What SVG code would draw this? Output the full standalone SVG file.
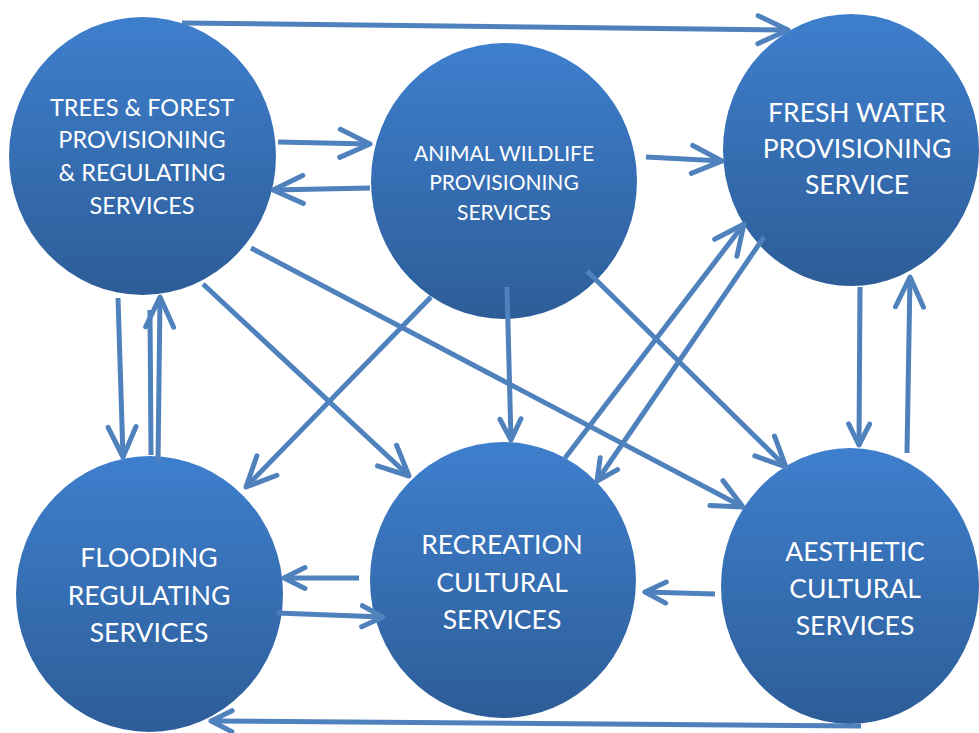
<svg xmlns="http://www.w3.org/2000/svg" width="979" height="733" viewBox="0 0 979 733">
<defs>
<linearGradient id="g" x1="0" y1="0" x2="0" y2="1">
<stop offset="0" stop-color="#3e7fcd"/>
<stop offset="1" stop-color="#2d5d98"/>
</linearGradient>
<marker id="big" markerUnits="userSpaceOnUse" markerWidth="80" markerHeight="80" viewBox="-40 -40 80 80" refX="0" refY="0" orient="auto" overflow="visible">
<path d="M-30,-14 L0,0 L-30,14" fill="none" stroke="#4f81bd" stroke-width="5" stroke-linecap="round" stroke-linejoin="round"/>
</marker>
<marker id="small" markerUnits="userSpaceOnUse" markerWidth="80" markerHeight="80" viewBox="-40 -40 80 80" refX="0" refY="0" orient="auto" overflow="visible">
<path d="M-21,-10.5 L0,0 L-21,10.5" fill="none" stroke="#4f81bd" stroke-width="5" stroke-linecap="round" stroke-linejoin="round"/>
</marker>
</defs>
<style>
.node{fill:url(#g);}
.lbl{font-family:Lato,"Open Sans","Liberation Sans",sans-serif;fill:#ffffff;text-anchor:middle;}
.c{fill:none;stroke:#4f81bd;stroke-width:5;}
.b{marker-end:url(#big);}
.s{marker-end:url(#small);}
</style>
<rect width="979" height="733" fill="#ffffff"/>
<g id="trees">
<ellipse class="node" cx="142.5" cy="156" rx="133.5" ry="139"/>
<text class="lbl" font-size="23.5"><tspan x="142" y="116">TREES &amp; FOREST</tspan><tspan x="142" y="148">PROVISIONING</tspan><tspan x="142" y="181">&amp; REGULATING</tspan><tspan x="142" y="214">SERVICES</tspan></text>
</g>
<g id="animal">
<ellipse class="node" cx="504" cy="181" rx="133" ry="138"/>
<text class="lbl" font-size="21"><tspan x="504" y="161">ANIMAL WILDLIFE</tspan><tspan x="504" y="190">PROVISIONING</tspan><tspan x="504" y="220">SERVICES</tspan></text>
</g>
<g id="freshwater">
<ellipse class="node" cx="851" cy="150" rx="128" ry="136"/>
<text class="lbl" font-size="26.5"><tspan x="857" y="122">FRESH WATER</tspan><tspan x="857" y="158">PROVISIONING</tspan><tspan x="857" y="194">SERVICE</tspan></text>
</g>
<g id="flooding">
<ellipse class="node" cx="149.5" cy="594" rx="133.5" ry="138"/>
<text class="lbl" font-size="26.5"><tspan x="149" y="567">FLOODING</tspan><tspan x="149" y="605">REGULATING</tspan><tspan x="149" y="642">SERVICES</tspan></text>
</g>
<g id="recreation">
<ellipse class="node" cx="503" cy="580" rx="133" ry="138"/>
<text class="lbl" font-size="26.5"><tspan x="502" y="554">RECREATION</tspan><tspan x="502" y="592">CULTURAL</tspan><tspan x="502" y="629">SERVICES</tspan></text>
</g>
<g id="aesthetic">
<ellipse class="node" cx="850" cy="586" rx="129" ry="138"/>
<text class="lbl" font-size="26.5"><tspan x="855" y="561">AESTHETIC</tspan><tspan x="855" y="598">CULTURAL</tspan><tspan x="855" y="635">SERVICES</tspan></text>
</g>
<g id="connectors">
<path class="c b" d="M182,23 L788,30" stroke-width="4.5"/>
<path class="c b" d="M278,142 L370,144"/>
<path class="c b" d="M370,188 L273,190"/>
<path class="c b" d="M646,157 L722,161"/>
<path class="c b" d="M118,298 L123,457"/>
<path class="c b" d="M158,463 L160,297"/>
<path class="c" d="M150,310 L151,455" stroke-width="1"/>
<path class="c b" d="M203,284 L409,476"/>
<path class="c b" d="M251,248 L743,507"/>
<path class="c b" d="M431,297 L246,487"/>
<path class="c s" d="M507,287 L511,440"/>
<path class="c b" d="M587,271 L786,467"/>
<path class="c b" d="M565,458 L744,224"/>
<path class="c s" d="M764,237 L597,481"/>
<path class="c s" d="M860,287 L859,445"/>
<path class="c b" d="M907,453 L910,277"/>
<path class="c s" d="M715,594 L645,592"/>
<path class="c s" d="M359,578 L284,578"/>
<path class="c s" d="M277,613 L383,617"/>
<path class="c s" d="M861,726 L211,721"/>
</g>
</svg>
